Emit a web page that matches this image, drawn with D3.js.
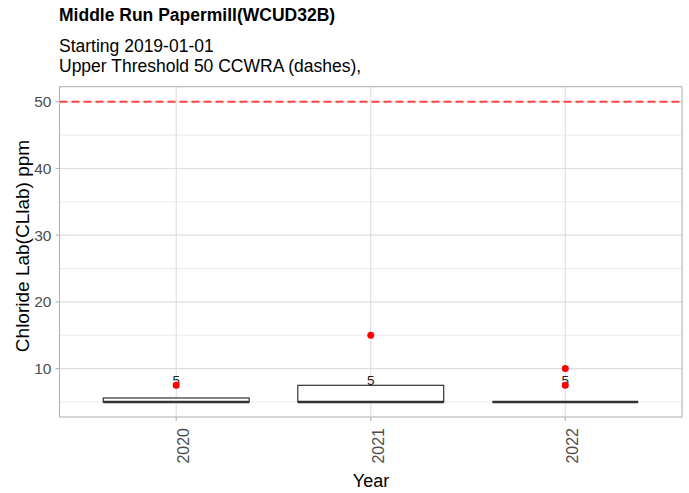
<!DOCTYPE html>
<html><head><meta charset="utf-8">
<script src="https://cdn.jsdelivr.net/npm/d3@7"></script>
<style>
html,body{margin:0;padding:0;background:#fff;}
text{font-family:"Liberation Sans",Arial,sans-serif;}
</style></head>
<body><svg id="c" width="689" height="493"></svg>
<script>
const years = ["2020","2021","2022"];
const values2020 = [5, 5, 5, 5.6, 7.5];
const values2021 = [5, 5, 5, 7.5, 15];
const values2022 = [5, 5, 5, 5, 5, 5, 5, 7.5, 10];
const medianLabels = [5, 5, 5];
const threshold = 50;
const yTicks = [10, 20, 30, 40, 50];
const yMinor = [5, 15, 25, 35, 45];
const labelY = 8.3;

const series = [values2020, values2021, values2022];
const svg = d3.select("#c");
const M = {l:59.5, r:682, t:86.7, b:417};
const lo = 5, hi = 50, ex = (hi-lo)*0.05;
const y = d3.scaleLinear().domain([lo-ex, hi+ex]).range([M.b, M.t]);
const xc = d3.scalePoint().domain(years).range([M.l, M.r]).padding(0.6);
const step = xc.step();
const boxW = 0.75*step;

const grid = svg.append("g");
grid.selectAll("line.mn").data(yMinor).join("line")
  .attr("x1", M.l).attr("x2", M.r).attr("y1", d=>y(d)).attr("y2", d=>y(d))
  .attr("stroke", "#DEDEDE").attr("stroke-width", 0.6);
grid.selectAll("line.mj").data(yTicks).join("line")
  .attr("x1", M.l).attr("x2", M.r).attr("y1", d=>y(d)).attr("y2", d=>y(d))
  .attr("stroke", "#DEDEDE").attr("stroke-width", 1.1);
grid.selectAll("line.vx").data(years).join("line")
  .attr("x1", d=>xc(d)).attr("x2", d=>xc(d)).attr("y1", M.t).attr("y2", M.b)
  .attr("stroke", "#DEDEDE").attr("stroke-width", 1.1);

// threshold
svg.append("line").attr("x1", M.l).attr("x2", M.r)
  .attr("y1", y(threshold)).attr("y2", y(threshold))
  .attr("stroke", "#FF4444").attr("stroke-width", 1.9)
  .attr("stroke-dasharray", "8,4");

// boxplots
const stats = series.map((v, i) => {
  const s = v.slice().sort(d3.ascending);
  const q1 = d3.quantile(s, 0.25), med = d3.quantile(s, 0.5), q3 = d3.quantile(s, 0.75);
  const iqr = q3 - q1;
  const inside = s.filter(d => d >= q1 - 1.5*iqr && d <= q3 + 1.5*iqr);
  return {year: years[i], q1, med, q3, lw: d3.min(inside), uw: d3.max(inside),
          out: s.filter(d => d < q1 - 1.5*iqr || d > q3 + 1.5*iqr)};
});
const bg = svg.append("g");
stats.forEach(s => {
  const cx = xc(s.year);
  if (s.uw > s.q3) bg.append("line").attr("x1", cx).attr("x2", cx).attr("y1", y(s.q3)).attr("y2", y(s.uw)).attr("stroke","#333").attr("stroke-width",1);
  if (s.lw < s.q1) bg.append("line").attr("x1", cx).attr("x2", cx).attr("y1", y(s.q1)).attr("y2", y(s.lw)).attr("stroke","#333").attr("stroke-width",1);
  bg.append("rect").attr("x", cx - boxW/2).attr("width", boxW)
    .attr("y", y(s.q3)).attr("height", Math.max(0, y(s.q1) - y(s.q3)))
    .attr("fill", "#fff").attr("stroke", "#333").attr("stroke-width", 1.2);
  bg.append("line").attr("x1", cx - boxW/2).attr("x2", cx + boxW/2)
    .attr("y1", y(s.med)).attr("y2", y(s.med)).attr("stroke", "#333").attr("stroke-width", 2.4);
});
// median labels
svg.selectAll("text.n").data(medianLabels).join("text")
  .attr("x", (d,i)=>xc(years[i])).attr("y", y(labelY)).attr("dy", "0.35em")
  .attr("text-anchor", "middle").attr("font-size", 13.5).attr("fill", "#222")
  .text(d=>d);
// outlier points on top
const pg = svg.append("g");
stats.forEach(s => {
  s.out.forEach(o => pg.append("circle").attr("cx", xc(s.year)).attr("cy", y(o)).attr("r", 3.5).attr("fill", "#FF0000"));
});

// panel border
svg.append("rect").attr("x", M.l).attr("y", M.t).attr("width", M.r-M.l).attr("height", M.b-M.t)
  .attr("fill","none").attr("stroke","#B3B3B3").attr("stroke-width",1.1);

// y axis
const ya = svg.append("g");
yTicks.forEach(t => {
  ya.append("line").attr("x1", M.l-4).attr("x2", M.l).attr("y1", y(t)).attr("y2", y(t)).attr("stroke","#B3B3B3").attr("stroke-width",1.1);
  ya.append("text").attr("x", M.l-8).attr("y", y(t)).attr("dy","0.36em").attr("text-anchor","end")
    .attr("font-size",15.5).attr("fill","#4D4D4D").text(t);
});
// x axis
years.forEach(yr => {
  const cx = xc(yr);
  ya.append("line").attr("x1", cx).attr("x2", cx).attr("y1", M.b).attr("y2", M.b+4).attr("stroke","#B3B3B3").attr("stroke-width",1.1);
  ya.append("text").attr("transform", `translate(${cx+13},${M.b+11}) rotate(-90)`)
    .attr("text-anchor","end").attr("font-size",16).attr("fill","#4D4D4D").text(yr);
});
svg.append("text").attr("x", 371).attr("y", 487).attr("text-anchor","middle")
  .attr("font-size",18).attr("fill","#000").text("Year");
svg.append("text").attr("transform", `translate(29,246) rotate(-90)`).attr("text-anchor","middle")
  .attr("font-size",19).attr("fill","#000").text("Chloride Lab(CLlab) ppm");

// titles
svg.append("text").attr("x", 59).attr("y", 21).attr("font-size",17.5).attr("font-weight","bold").text("Middle Run Papermill(WCUD32B)");
svg.append("text").attr("x", 59).attr("y", 51.5).attr("font-size",17.5).text("Starting 2019-01-01");
svg.append("text").attr("x", 59).attr("y", 71.5).attr("font-size",17.5).text("Upper Threshold 50 CCWRA (dashes),");
</script></body></html>
